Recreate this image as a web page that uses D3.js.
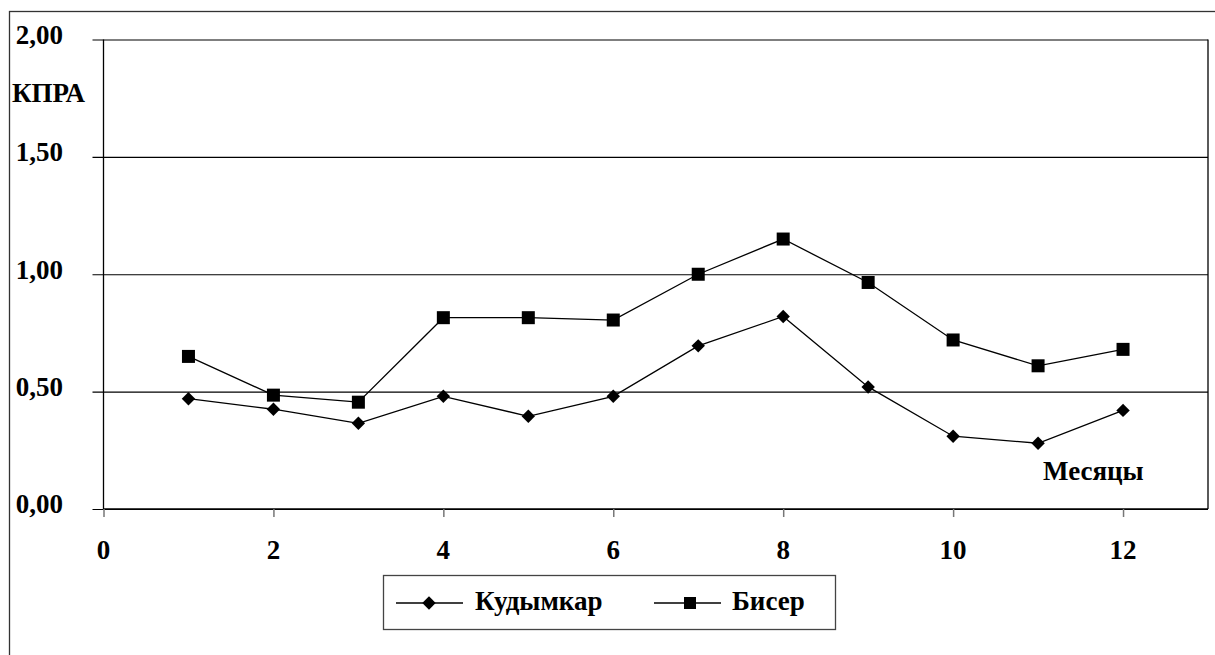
<!DOCTYPE html>
<html>
<head>
<meta charset="utf-8">
<script src="https://cdn.jsdelivr.net/npm/d3@7"></script>
<style>
  body { margin: 0; background: #fff; }
  text { font-family: "Liberation Serif", "DejaVu Serif", serif; font-weight: 700; fill: #000; }
</style>
</head>
<body>
<div id="chart"></div>
<script>
var months = [1, 2, 3, 4, 5, 6, 7, 8, 9, 10, 11, 12];
var kudymkar = [0.47, 0.425, 0.365, 0.48, 0.395, 0.48, 0.695, 0.82, 0.52, 0.31, 0.28, 0.42];
var biser = [0.65, 0.485, 0.455, 0.815, 0.815, 0.805, 1.0, 1.15, 0.965, 0.72, 0.61, 0.68];
var yTicks = [0, 0.5, 1, 1.5, 2];
var xTicks = [0, 2, 4, 6, 8, 10, 12];

var svgWidth = 1215;
var svgHeight = 655;
var fontSize = "27px";

var svg = d3.select("#chart")
  .append("svg")
  .attr("width", svgWidth)
  .attr("height", svgHeight);

// outer frame (runs off the right and bottom edges)
svg.append("rect")
  .attr("x", 9.5)
  .attr("y", 11.5)
  .attr("width", 1300)
  .attr("height", 700)
  .attr("fill", "none")
  .attr("stroke", "#333")
  .attr("stroke-width", 1.3);

var xScale = d3.scaleLinear().domain([0, 13]).range([103.5, 1208]);
var yScale = d3.scaleLinear().domain([0, 2]).range([509, 39.5]);

var fmt = d3.format(".2f");

// horizontal gridlines + left ticks
var leftAxis = d3.axisLeft(yScale)
  .tickValues(yTicks)
  .tickSize(-(1208 - 103.5))
  .tickSizeOuter(0)
  .tickFormat("");

var gy = svg.append("g")
  .attr("transform", "translate(103.5,0)")
  .call(leftAxis);
gy.select(".domain").remove();
gy.selectAll(".tick line")
  .attr("x1", -11)
  .attr("stroke", "#000")
  .attr("stroke-width", 1.2);

// plot area frame
svg.append("line")
  .attr("x1", 103.5).attr("x2", 103.5)
  .attr("y1", yScale(2)).attr("y2", yScale(0))
  .attr("stroke", "#000").attr("stroke-width", 1.3);
svg.append("line")
  .attr("x1", 1208).attr("x2", 1208)
  .attr("y1", yScale(2)).attr("y2", yScale(0))
  .attr("stroke", "#000").attr("stroke-width", 1.3);
svg.append("line")
  .attr("x1", 103.5).attr("x2", 1208)
  .attr("y1", yScale(0)).attr("y2", yScale(0))
  .attr("stroke", "#000").attr("stroke-width", 1.6);

// x ticks
var bottomAxis = d3.axisBottom(xScale)
  .tickValues(xTicks)
  .tickSize(8)
  .tickSizeOuter(0)
  .tickFormat("");

var gx = svg.append("g")
  .attr("transform", "translate(0," + yScale(0) + ")")
  .call(bottomAxis);
gx.select(".domain").remove();
gx.selectAll(".tick line").attr("stroke", "#777").attr("stroke-width", 1.5);

// y tick labels
svg.selectAll(".ylab")
  .data(yTicks)
  .enter()
  .append("text")
  .attr("class", "ylab")
  .attr("x", 63)
  .attr("y", d => yScale(d) - 5)
  .attr("dy", "0.35em")
  .attr("text-anchor", "end")
  .attr("font-size", fontSize)
  .text(d => fmt(d).replace(".", ","));

// x tick labels
svg.selectAll(".xlab")
  .data(xTicks)
  .enter()
  .append("text")
  .attr("class", "xlab")
  .attr("x", d => xScale(d))
  .attr("y", 559)
  .attr("text-anchor", "middle")
  .attr("font-size", fontSize)
  .text(d => d);

svg.append("text")
  .attr("x", 12)
  .attr("y", 102)
  .attr("font-size", fontSize)
  .text("КПРА");

svg.append("text")
  .attr("x", 1043)
  .attr("y", 480)
  .attr("font-size", fontSize)
  .text("Месяцы");

// series
var line = d3.line()
  .x((d, i) => xScale(months[i]))
  .y(d => yScale(d));

svg.append("path")
  .datum(kudymkar)
  .attr("d", line)
  .attr("fill", "none")
  .attr("stroke", "#000")
  .attr("stroke-width", 1.3);

svg.append("path")
  .datum(biser)
  .attr("d", line)
  .attr("fill", "none")
  .attr("stroke", "#000")
  .attr("stroke-width", 1.3);

var diamond = d3.symbol().type(d3.symbolSquare).size(90);

svg.selectAll(".kud")
  .data(kudymkar)
  .enter()
  .append("path")
  .attr("class", "kud")
  .attr("d", diamond)
  .attr("transform", (d, i) => "translate(" + xScale(months[i]) + "," + yScale(d) + ") rotate(45)")
  .attr("fill", "#000");

svg.selectAll(".bis")
  .data(biser)
  .enter()
  .append("rect")
  .attr("class", "bis")
  .attr("x", (d, i) => xScale(months[i]) - 6.5)
  .attr("y", d => yScale(d) - 6.5)
  .attr("width", 13)
  .attr("height", 13)
  .attr("fill", "#000");

// legend
var legend = svg.append("g");
legend.append("rect")
  .attr("x", 383.5)
  .attr("y", 575.5)
  .attr("width", 452)
  .attr("height", 54)
  .attr("fill", "#fff")
  .attr("stroke", "#444")
  .attr("stroke-width", 1.3);

legend.append("line")
  .attr("x1", 396).attr("x2", 463)
  .attr("y1", 603).attr("y2", 603)
  .attr("stroke", "#000").attr("stroke-width", 1.3);
legend.append("path")
  .attr("d", diamond)
  .attr("transform", "translate(429,603) rotate(45)")
  .attr("fill", "#000");
legend.append("text")
  .attr("x", 475)
  .attr("y", 610)
  .attr("font-size", fontSize)
  .text("Кудымкар");

legend.append("line")
  .attr("x1", 654).attr("x2", 721)
  .attr("y1", 603).attr("y2", 603)
  .attr("stroke", "#000").attr("stroke-width", 1.3);
legend.append("rect")
  .attr("x", 684).attr("y", 597)
  .attr("width", 12).attr("height", 12)
  .attr("fill", "#000");
legend.append("text")
  .attr("x", 732)
  .attr("y", 610)
  .attr("font-size", fontSize)
  .text("Бисер");
</script>
</body>
</html>
